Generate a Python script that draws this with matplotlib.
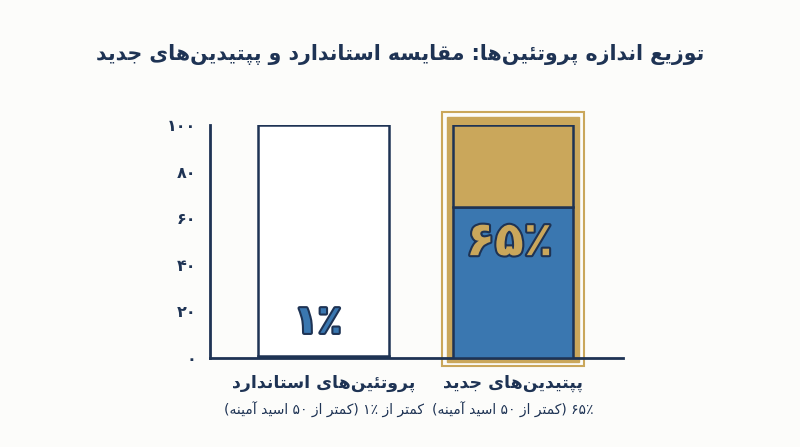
import re
import matplotlib
matplotlib.use('Agg')
import matplotlib.pyplot as plt
from matplotlib.patches import Rectangle
from matplotlib.transforms import blended_transform_factory
import matplotlib.patheffects as pe

# داده‌ها
categories = ['پروتئین‌های استاندارد', 'پپتیدین‌های جدید']
subtitles = ['کمتر از ۱٪ (کمتر از ۵۰ اسید آمینه)', '۶۵٪ (کمتر از ۵۰ اسید آمینه)']
small_share = [1, 65]
rest_share = [99, 35]
value_labels = ['۱٪', '۶۵٪']
yticks = [0, 20, 40, 60, 80, 100]
title = 'توزیع اندازه پروتئین‌ها: مقایسه استاندارد و پپتیدین‌های جدید'

NAVY = '#1e3354'
BLUE = '#3a77b0'
GOLD = '#caa75b'
BG = '#fcfcfa'

# شکل‌های حروف: جدا، پایانی، آغازی، میانی
FORMS = {
    'ا': ('\uFE8D', '\uFE8E', None, None),
    'آ': ('\uFE81', '\uFE82', None, None),
    'د': ('\uFEA9', '\uFEAA', None, None),
    'ر': ('\uFEAD', '\uFEAE', None, None),
    'ز': ('\uFEAF', '\uFEB0', None, None),
    'و': ('\uFEED', '\uFEEE', None, None),
    'ب': ('\uFE8F', '\uFE90', '\uFE91', '\uFE92'),
    'ت': ('\uFE95', '\uFE96', '\uFE97', '\uFE98'),
    'پ': ('\uFB56', '\uFB57', '\uFB58', '\uFB59'),
    'ج': ('\uFE9D', '\uFE9E', '\uFE9F', '\uFEA0'),
    'س': ('\uFEB1', '\uFEB2', '\uFEB3', '\uFEB4'),
    'ع': ('\uFEC9', '\uFECA', '\uFECB', '\uFECC'),
    'ق': ('\uFED5', '\uFED6', '\uFED7', '\uFED8'),
    'ک': ('\uFB8E', '\uFB8F', '\uFB90', '\uFB91'),
    'م': ('\uFEE1', '\uFEE2', '\uFEE3', '\uFEE4'),
    'ن': ('\uFEE5', '\uFEE6', '\uFEE7', '\uFEE8'),
    'ه': ('\uFEE9', '\uFEEA', '\uFEEB', '\uFEEC'),
    'ی': ('\uFBFC', '\uFBFD', '\uFBFE', '\uFBFF'),
    'ئ': ('\uFE89', '\uFE8A', '\uFE8B', '\uFE8C'),
}


def fa(text):
    out = []
    for i, ch in enumerate(text):
        if ch not in FORMS:
            if ch != '\u200c':
                out.append(ch)
            continue
        prev = text[i - 1] if i > 0 else ''
        nxt = text[i + 1] if i + 1 < len(text) else ''
        join_prev = prev in FORMS and FORMS[prev][2] is not None
        join_next = FORMS[ch][2] is not None and nxt in FORMS
        iso, fin, ini, med = FORMS[ch]
        if join_prev and join_next:
            out.append(med)
        elif join_prev:
            out.append(fin)
        elif join_next:
            out.append(ini)
        else:
            out.append(iso)
    s = ''.join(out)[::-1]
    s = re.sub(r'[۰-۹0-9٪%]+', lambda m: m.group(0)[::-1], s)
    s = s.translate(str.maketrans('()', ')('))
    return s


def fa_num(n):
    return str(n).translate(str.maketrans('0123456789', '۰۱۲۳۴۵۶۷۸۹'))


plt.rcParams['font.family'] = ['DejaVu Sans']

fig = plt.figure(figsize=(8, 4.47), dpi=100, facecolor=BG)
ax = fig.add_axes([0.2625, 0.1991, 0.51625, 0.5213])
ax.set_facecolor(BG)

x = [0, 1]
widths = [0.69, 0.635]

# کادر طلایی دور ستون دوم
ax.add_patch(Rectangle((0.625, -3.4), 0.75, 109.0, facecolor='none',
                       edgecolor=GOLD, lw=1.5, clip_on=False, zorder=1))
ax.add_patch(Rectangle((0.652, -1.7), 0.696, 105.1, facecolor=GOLD,
                       edgecolor=GOLD, lw=1, clip_on=False, zorder=1))

ax.bar(x, small_share, width=widths, color=BLUE, edgecolor=NAVY, lw=1.8, zorder=3)
ax.bar(x, rest_share, bottom=small_share, width=widths,
       color=['white', GOLD], edgecolor=NAVY, lw=1.8, zorder=3)

ax.set_xlim(-0.599, 1.580)
ax.set_ylim(0, 100)
ax.set_xticks([])
ax.set_yticks(yticks)
ax.set_yticklabels([fa_num(v) for v in yticks], fontsize=11.5, color=NAVY,
                   fontweight='semibold')
ax.tick_params(axis='y', length=0, pad=10)
for side in ['top', 'right']:
    ax.spines[side].set_visible(False)
for side in ['left', 'bottom']:
    ax.spines[side].set_color(NAVY)
    ax.spines[side].set_linewidth(2)

# برچسب درصد روی ستون‌ها
ax.text(x[0] - 0.03, 15.5, fa(value_labels[0]), ha='center', va='center',
        fontsize=28, fontweight='bold', color=BLUE, zorder=5,
        path_effects=[pe.withStroke(linewidth=3, foreground=NAVY)])
ax.text(x[1] - 0.02, 49.5, fa(value_labels[1]), ha='center', va='center',
        fontsize=34, fontweight='bold', color=GOLD, zorder=5,
        path_effects=[pe.withStroke(linewidth=3, foreground=NAVY)])

tr = blended_transform_factory(ax.transData, ax.transAxes)
for xi, cat, sub in zip(x, categories, subtitles):
    ax.text(xi, -0.107, fa(cat), transform=tr, ha='center', va='center',
            fontsize=12.5, fontweight='bold', color=NAVY)
    ax.text(xi, -0.223, fa(sub), transform=tr, ha='center', va='center',
            fontsize=10, color=NAVY)

fig.text(0.5, 0.877, fa(title), ha='center', va='center',
         fontsize=14.8, fontweight='bold', color=NAVY)

fig.savefig('out.png', dpi=100, facecolor=BG)
